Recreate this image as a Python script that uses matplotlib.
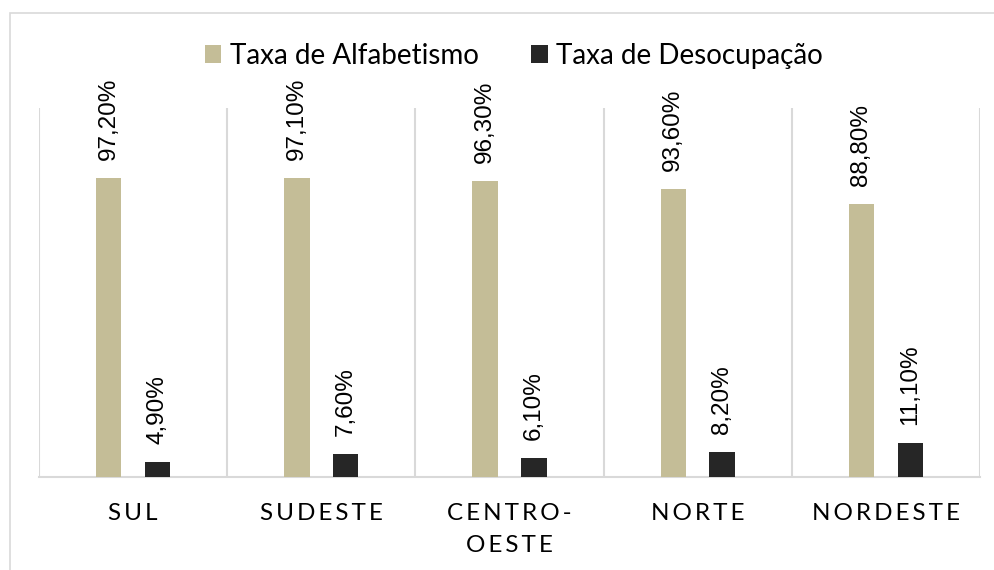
import numpy as np
import matplotlib.pyplot as plt
from matplotlib.patches import Rectangle

regioes = ['SUL', 'SUDESTE', 'CENTRO-\nOESTE', 'NORTE', 'NORDESTE']
alfabetismo = [97.2, 97.1, 96.3, 93.6, 88.8]
desocupacao = [4.9, 7.6, 6.1, 8.2, 11.1]
series = ['Taxa de Alfabetismo', 'Taxa de Desocupação']

cor_alf = '#C4BD97'
cor_des = '#262626'
cinza = '#D9D9D9'

def espacar(txt):
    # letter spacing like the original (thin spaces between chars)
    return '\n'.join('\u2009'.join(linha) for linha in txt.split('\n'))

fig = plt.figure(figsize=(9.94, 5.70), dpi=100)
ax = fig.add_axes([39 / 994, 1 - 477 / 570, (980 - 39) / 994, (477 - 108) / 570])

# outer chart frame
fig.patches.append(Rectangle((10 / 994, -0.05), 1.1, 1 - 13 / 570 + 0.05,
                             transform=fig.transFigure, fill=False,
                             edgecolor=cinza, linewidth=1.2))

x = np.arange(len(regioes))
w = 0.135
off = 0.13
b1 = ax.bar(x - off, alfabetismo, w, color=cor_alf, label=series[0], zorder=3)
b2 = ax.bar(x + off, desocupacao, w, color=cor_des, label=series[1], zorder=3)

for barras, vals in [(b1, alfabetismo), (b2, desocupacao)]:
    for r, v in zip(barras, vals):
        txt = f'{v:.2f}%'.replace('.', ',')
        ax.annotate(txt, (r.get_x() + r.get_width() / 2, r.get_height()),
                    xytext=(0, 13), textcoords='offset points',
                    rotation=90, ha='center', va='bottom',
                    fontsize=17.5, family='Liberation Sans', color='black')

ax.set_xlim(-0.5, len(regioes) - 0.5)
ax.set_ylim(0, 120)
ax.set_yticks([])
ax.set_xticks(x)
ax.set_xticklabels([espacar(r) for r in regioes], fontsize=17.5,
                   family=['Lato', 'DejaVu Sans'], linespacing=1.6)
ax.tick_params(axis='x', length=0, pad=19, colors='#000000')
ax.set_xticks(np.arange(-0.5, len(regioes)), minor=True)
ax.tick_params(axis='x', which='minor', length=0)
ax.grid(which='minor', axis='x', color=cinza, linewidth=1.5, zorder=0)
for s in ['top', 'left', 'right']:
    ax.spines[s].set_visible(False)
ax.spines['bottom'].set_color(cinza)
ax.spines['bottom'].set_linewidth(1.5)

leg = ax.legend(loc='center', bbox_to_anchor=(0.517, 1 - 56 / 570), bbox_transform=fig.transFigure,
                ncol=2, frameon=False, handlelength=0.6, handleheight=0.6,
                handletextpad=0.3, columnspacing=1.9,
                prop={'family': 'Lato', 'size': 20})

fig.savefig('out.png', dpi=100)
